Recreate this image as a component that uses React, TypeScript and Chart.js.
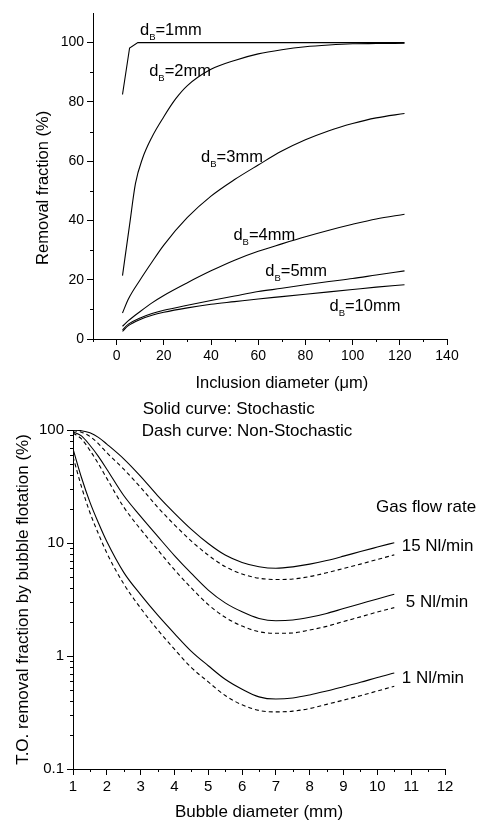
import React, { useEffect, useRef } from "react";
import { Chart, registerables } from "chart.js";

Chart.register(...registerables);

const FONT = "'Liberation Sans', Arial, Helvetica, sans-serif";

// ---------- Top chart: removal fraction vs inclusion diameter ----------
const incX_1mm = [2.5, 5.5, 9, 122];
const rem_1mm = [82.5, 98.2, 100, 100];
const incX_2mm = [2.5, 5.5, 8, 11, 15, 20, 25, 30, 40, 50, 60, 70, 80, 90, 100, 110, 122];
const rem_2mm = [21.4, 38.5, 52.5, 61, 68.2, 75, 81, 85.5, 91, 94, 96.2, 97.6, 98.6, 99.2, 99.6, 99.7, 99.8];
const incX = [2.5, 5, 10, 15, 20, 30, 40, 50, 60, 70, 80, 90, 100, 110, 122];
const rem_3mm = [8.8, 13.5, 20, 26, 31.7, 41, 48.2, 53.8, 58.7, 63.4, 67.2, 70.3, 72.7, 74.6, 76.1];
const rem_4mm = [4.3, 6.2, 9.3, 12.2, 14.7, 19, 23, 26.6, 29.6, 32.1, 34.5, 36.7, 38.7, 40.5, 42.1];
const rem_5mm = [3.1, 5.0, 7.1, 8.6, 9.7, 11.4, 13, 14.5, 16, 17.1, 18.3, 19.4, 20.4, 21.6, 23.0];
const rem_10mm = [2.6, 4.5, 6.6, 8.0, 9.0, 10.5, 11.7, 12.6, 13.5, 14.3, 15.1, 15.9, 16.7, 17.5, 18.3];

const topXTicks = [0, 20, 40, 60, 80, 100, 120, 140];
const topXMinor = [-10, 10, 30, 50, 70, 90, 110, 130];
const topYTicks = [0, 20, 40, 60, 80, 100];
const topYMinor = [10, 30, 50, 70, 90];

// label: [bubble size text, x, baseline y]
const dbLabels: [string, number, number][] = [
  ["1", 9.9, 102.5],
  ["2", 13.8, 88.7],
  ["3", 35.8, 59.6],
  ["4", 49.5, 33.4],
  ["5", 63, 21.3],
  ["10", 90.2, 9.6],
];

// ---------- Bottom chart: T.O. removal vs bubble diameter ----------
const bubbleD = [1, 1.25, 1.5, 1.75, 2, 2.5, 3, 3.5, 4, 4.5, 5, 5.5, 6, 6.5, 7, 7.5, 8, 8.5, 9, 9.5, 10, 10.5];
const stoch15 = [100, 98.6, 94.4, 86.1, 75, 55.6, 38.9, 26.3, 18.4, 13.2, 9.89, 7.82, 6.73, 6.17, 5.98, 6.15, 6.5, 7.0, 7.65, 8.4, 9.2, 10.07];
const nonStoch15 = [99, 95.6, 87.8, 75.8, 63, 45, 31.1, 20.8, 14.5, 10.4, 7.8, 6.18, 5.32, 4.88, 4.75, 4.8, 5.05, 5.45, 5.95, 6.5, 7.15, 7.85];
const stoch5 = [96.6, 88.7, 73.3, 58.5, 45, 26.3, 17.2, 11.5, 7.74, 5.38, 3.83, 2.95, 2.46, 2.15, 2.05, 2.08, 2.2, 2.38, 2.63, 2.9, 3.2, 3.52];
const nonStoch5 = [94, 83.4, 66, 50.3, 37.3, 20.8, 13.2, 8.74, 5.8, 4.0, 2.85, 2.2, 1.84, 1.64, 1.59, 1.6, 1.7, 1.83, 2.02, 2.22, 2.45, 2.68];
const stoch1 = [68, 38, 23, 15.1, 10.3, 5.5, 3.49, 2.31, 1.58, 1.10, 0.82, 0.622, 0.508, 0.435, 0.416, 0.425, 0.452, 0.49, 0.535, 0.585, 0.645, 0.706];
const nonStoch1 = [58, 31.5, 18.6, 12.1, 8.15, 4.35, 2.65, 1.71, 1.15, 0.79, 0.59, 0.447, 0.37, 0.33, 0.32, 0.325, 0.343, 0.373, 0.407, 0.445, 0.49, 0.54];

const botXTicks = [1, 2, 3, 4, 5, 6, 7, 8, 9, 10, 11, 12];
const botXMinor = [1.5, 2.5, 3.5, 4.5, 5.5, 6.5, 7.5, 8.5, 9.5, 10.5, 11.5];
const botYTicks = [0.1, 1, 10, 100];
const botYMinor = [0.2, 0.3, 0.4, 0.5, 0.6, 0.7, 0.8, 0.9, 2, 3, 4, 5, 6, 7, 8, 9, 20, 30, 40, 50, 60, 70, 80, 90];

// [text, x, baseline value]
const botNotes: [string, number, number][] = [
  ["Solid curve: Stochastic", 3.06, 138],
  ["Dash curve: Non-Stochastic", 3.03, 88.5],
  ["Gas flow rate", 9.96, 19],
  ["15 Nl/min", 10.72, 8.57],
  ["5 Nl/min", 10.84, 2.74],
  ["1 Nl/min", 10.72, 0.576],
];

const pts = (xs: number[], ys: number[]) => xs.map((x, i) => ({ x, y: ys[i] }));

function minorTicks(specs: { id: string; values: number[]; len: number }[]) {
  return {
    id: "minorTicks",
    afterDraw(chart: any) {
      const ctx = chart.ctx;
      ctx.save();
      ctx.strokeStyle = "#000";
      ctx.lineWidth = 1;
      for (const s of specs) {
        const sc = chart.scales[s.id];
        for (const v of s.values) {
          const p = Math.round(sc.getPixelForValue(v)) + 0.5;
          ctx.beginPath();
          if (sc.isHorizontal()) {
            ctx.moveTo(p, sc.top);
            ctx.lineTo(p, sc.top + s.len);
          } else {
            ctx.moveTo(sc.right, p);
            ctx.lineTo(sc.right - s.len, p);
          }
          ctx.stroke();
        }
      }
      ctx.restore();
    },
  };
}

function lineDs(data: { x: number; y: number }[], dashed = false, smooth = true) {
  return {
    data,
    borderColor: "#000",
    borderWidth: 1.1,
    borderDash: dashed ? [4, 3] : [],
    pointRadius: 0,
    fill: false,
    tension: 0,
    cubicInterpolationMode: smooth ? ("monotone" as const) : ("default" as const),
  };
}

function axisCommon(ticks: number[], tickSize: number, fixed: { w?: number; h?: number }) {
  return {
    afterBuildTicks: (s: any) => {
      s.ticks = ticks.map((v) => ({ value: v }));
    },
    afterFit: (s: any) => {
      if (fixed.w !== undefined) {
        s.width = fixed.w;
        s.paddingTop = 0;
        s.paddingBottom = 0;
      }
      if (fixed.h !== undefined) {
        s.height = fixed.h;
        s.paddingLeft = 0;
        s.paddingRight = 0;
      }
    },
    grid: {
      display: true,
      drawOnChartArea: false,
      drawTicks: true,
      tickLength: 6,
      color: "#000",
      tickColor: "#000",
      tickWidth: 1,
    },
    border: { display: true, color: "#000", width: 1 },
    ticks: {
      font: { family: FONT, size: tickSize },
      color: "#000",
      padding: 3,
      maxRotation: 0,
      minRotation: 0,
      autoSkip: false,
      callback: (v: any) => String(v),
    },
  };
}

export default function App() {
  const topRef = useRef<HTMLCanvasElement>(null);
  const botRef = useRef<HTMLCanvasElement>(null);

  useEffect(() => {
    const topText = {
      id: "topText",
      afterDraw(chart: any) {
        const ctx = chart.ctx;
        const xs = chart.scales.x;
        const ys = chart.scales.y;
        ctx.save();
        ctx.fillStyle = "#000";
        ctx.textBaseline = "alphabetic";
        ctx.textAlign = "left";
        for (const [n, x, y] of dbLabels) {
          let px = xs.getPixelForValue(x);
          const py = ys.getPixelForValue(y);
          ctx.font = `16.5px ${FONT}`;
          ctx.fillText("d", px, py);
          px += ctx.measureText("d").width;
          ctx.font = `9.5px ${FONT}`;
          ctx.fillText("B", px, py + 5);
          px += ctx.measureText("B").width;
          ctx.font = `16.5px ${FONT}`;
          ctx.fillText(`=${n}mm`, px, py);
        }
        // axis titles
        ctx.font = `16.5px ${FONT}`;
        ctx.textAlign = "center";
        ctx.textBaseline = "middle";
        ctx.fillText("Inclusion diameter (\u03bcm)", xs.getPixelForValue(70), chart.chartArea.bottom + 44);
        ctx.translate(chart.chartArea.left - 50, ys.getPixelForValue(51));
        ctx.rotate(-Math.PI / 2);
        ctx.fillText("Removal fraction (%)", 0, 0);
        ctx.restore();
      },
    };

    const c1 = new Chart(topRef.current as HTMLCanvasElement, {
      type: "line",
      data: {
        datasets: [
          lineDs(pts(incX_1mm, rem_1mm), false, false),
          lineDs(pts(incX_2mm, rem_2mm)),
          lineDs(pts(incX, rem_3mm)),
          lineDs(pts(incX, rem_4mm)),
          lineDs(pts(incX, rem_5mm)),
          lineDs(pts(incX, rem_10mm)),
        ] as any,
      },
      options: {
        responsive: false,
        animation: false,
        events: [],
        layout: { padding: { left: 0, right: 34, top: 13, bottom: 0 } },
        plugins: { legend: { display: false }, tooltip: { enabled: false } },
        scales: {
          x: { type: "linear", min: -10, max: 140, ...axisCommon(topXTicks, 14, { h: 56 }) } as any,
          y: { type: "linear", min: 0, max: 110, ...axisCommon(topYTicks, 14, { w: 93 }) } as any,
        },
      },
      plugins: [
        minorTicks([
          { id: "x", values: topXMinor, len: 3 },
          { id: "y", values: topYMinor, len: 3 },
        ]),
        topText,
      ],
    });

    const botText = {
      id: "botText",
      afterDraw(chart: any) {
        const ctx = chart.ctx;
        const xs = chart.scales.x;
        const ys = chart.scales.y;
        ctx.save();
        ctx.fillStyle = "#000";
        ctx.font = `17px ${FONT}`;
        ctx.textAlign = "left";
        ctx.textBaseline = "alphabetic";
        for (const [t, x, y] of botNotes) {
          ctx.fillText(t, xs.getPixelForValue(x), ys.getPixelForValue(y));
        }
        ctx.restore();
      },
    };

    const c2 = new Chart(botRef.current as HTMLCanvasElement, {
      type: "line",
      data: {
        datasets: [
          lineDs(pts(bubbleD, stoch15)),
          lineDs(pts(bubbleD, nonStoch15), true),
          lineDs(pts(bubbleD, stoch5)),
          lineDs(pts(bubbleD, nonStoch5), true),
          lineDs(pts(bubbleD, stoch1)),
          lineDs(pts(bubbleD, nonStoch1), true),
        ] as any,
      },
      options: {
        responsive: false,
        animation: false,
        events: [],
        layout: { padding: { left: 0, right: 36, top: 35, bottom: 0 } },
        plugins: { legend: { display: false }, tooltip: { enabled: false } },
        scales: {
          x: {
            type: "linear",
            min: 1,
            max: 12,
            ...axisCommon(botXTicks, 15, { h: 54 }),
            title: {
              display: true,
              text: "Bubble diameter (mm)",
              color: "#000",
              font: { family: FONT, size: 17 },
              padding: { top: 0, bottom: 0 },
            },
          } as any,
          y: {
            type: "logarithmic",
            min: 0.1,
            max: 100,
            ...axisCommon(botYTicks, 15, { w: 73 }),
            title: {
              display: true,
              text: "T.O. removal fraction by bubble flotation (%)",
              color: "#000",
              font: { family: FONT, size: 17 },
              padding: { top: 13, bottom: 0 },
            },
          } as any,
        },
      },
      plugins: [
        minorTicks([
          { id: "x", values: botXMinor, len: 3 },
          { id: "y", values: botYMinor, len: 3 },
        ]),
        botText,
      ],
    });

    return () => {
      c1.destroy();
      c2.destroy();
    };
  }, []);

  return (
    <div style={{ position: "absolute", left: 0, top: 0, width: 481, height: 823, background: "#fff" }}>
      <canvas ref={topRef} width={481} height={395} style={{ position: "absolute", left: 0, top: 0 }} />
      <canvas ref={botRef} width={481} height={428} style={{ position: "absolute", left: 0, top: 395 }} />
    </div>
  );
}
